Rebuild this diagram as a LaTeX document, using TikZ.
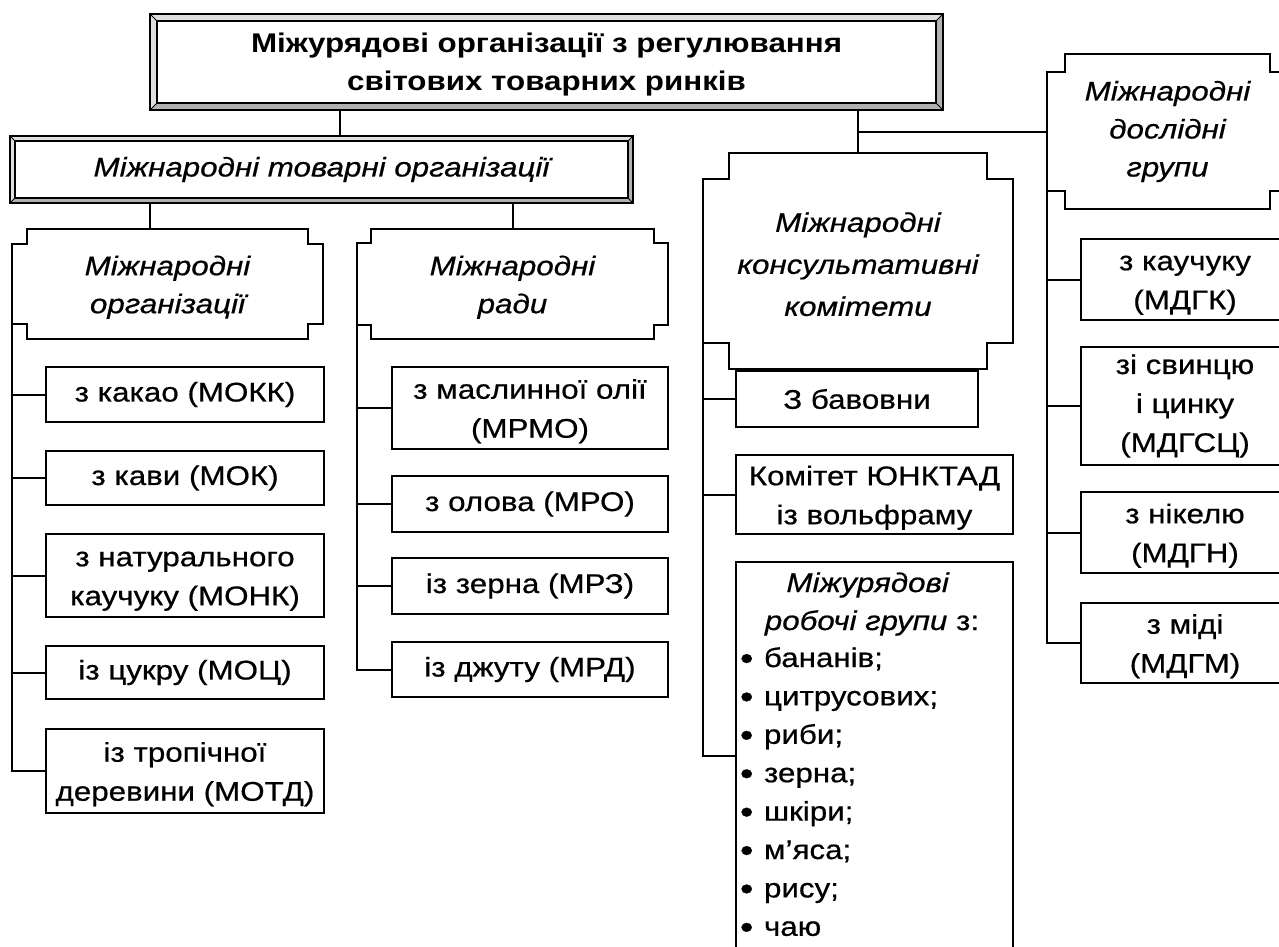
\documentclass[tikz,border=0pt]{standalone}
\usepackage{fontspec}
\setmainfont{Liberation Sans}[FakeStretch=1.16, UprightFeatures={FakeBold=0.6}, ItalicFeatures={FakeBold=0.6}]
\usetikzlibrary{calc}
\tikzset{
  boxln/.style={line width=2pt, line join=miter},
  conn/.style={line width=2pt},
  txt/.style={inner sep=0pt, outer sep=0pt, align=center, font=\fontsize{27}{39}\selectfont},
  bx/.style={txt, draw, boxln},
  pl/.style={txt, font=\fontsize{27}{38}\selectfont\itshape},
  frm/.style={txt},
  lst/.style={inner sep=0pt, outer sep=0pt, anchor=base west, font=\fontsize{27}{38}\selectfont},
}
\newcommand\up{\rule{0pt}{26pt}}
\newcommand\bul{\makebox[24pt][l]{\raisebox{-2.5pt}{\fontsize{33}{38}\selectfont\textbullet}}}
\newcommand\plaq[2]{%
  \draw[boxln] ([xshift=#2pt]#1.north west) -- ([xshift=-#2pt]#1.north east)
    -- ([xshift=-#2pt,yshift=-#2pt]#1.north east) -- ([yshift=-#2pt]#1.north east)
    -- ([yshift=#2pt]#1.south east) -- ([xshift=-#2pt,yshift=#2pt]#1.south east)
    -- ([xshift=-#2pt]#1.south east) -- ([xshift=#2pt]#1.south west)
    -- ([xshift=#2pt,yshift=#2pt]#1.south west) -- ([yshift=#2pt]#1.south west)
    -- ([yshift=-#2pt]#1.north west) -- ([xshift=#2pt,yshift=-#2pt]#1.north west) -- cycle;}
\newcommand\dfr[2]{%
  \coordinate (#1-a) at ([xshift=#2pt,yshift=-#2pt]#1.north west);
  \coordinate (#1-b) at ([xshift=-#2pt,yshift=-#2pt]#1.north east);
  \coordinate (#1-c) at ([xshift=-#2pt,yshift=#2pt]#1.south east);
  \coordinate (#1-d) at ([xshift=#2pt,yshift=#2pt]#1.south west);
  \fill[gray!25] (#1.north west) -- (#1.north east) -- (#1-b) -- (#1-a) -- (#1-d) -- (#1.south west) -- cycle;
  \fill[gray!60] (#1.north east) -- (#1.south east) -- (#1.south west) -- (#1-d) -- (#1-c) -- (#1-b) -- cycle;
  \draw[line width=1.8pt] (#1.north west) rectangle (#1.south east);
  \draw[line width=1.8pt] (#1-a) rectangle (#1-c);
  \draw[line width=1pt] (#1.north west) -- (#1-a) (#1.north east) -- (#1-b)
    (#1.south east) -- (#1-c) (#1.south west) -- (#1-d);}
\begin{document}
\begin{tikzpicture}[x=1pt,y=-1pt]
\useasboundingbox (0,0) rectangle (1279,946);
\fill[white] (0,0) rectangle (1279,946);
\clip (0,0) rectangle (1279,946);

% frames with double border
\node[frm, font=\fontsize{27}{38}\selectfont\bfseries, minimum width=793pt, minimum height=96pt] (T) at (546.5,62) {\rule{0pt}{24pt}Міжурядові організації з регулювання\\світових товарних ринків};
\node[frm, font=\fontsize{27}{38}\selectfont\itshape, minimum width=623pt, minimum height=67pt] (S) at (321.5,169.5) {Міжнародні товарні організації};
\dfr{T}{7}
\dfr{S}{5}

% plaques
\node[pl, minimum width=311pt, minimum height=110pt] (O) at (167.5,284) {\up Міжнародні\\організації};
\node[pl, minimum width=311pt, minimum height=110pt] (R) at (512.5,284) {\up Міжнародні\\ради};
\node[pl, font=\fontsize{27}{42}\selectfont\itshape, minimum width=310pt, minimum height=216pt] (K) at (858,261) {\up Міжнародні\\консультативні\\комітети};
\node[pl, minimum width=241pt, minimum height=155pt] (D) at (1167.5,131.5) {Міжнародні\\дослідні\\групи};
\plaq{O}{15}
\plaq{R}{14}
\plaq{K}{26}
\plaq{D}{18}

% left column
\node[bx, minimum width=278pt, minimum height=55pt] (o1) at (185,394.5) {з какао (МОКК)};
\node[bx, minimum width=278pt, minimum height=54pt] (o2) at (185,478) {з кави (МОК)};
\node[bx, minimum width=278pt, minimum height=83pt] (o3) at (185,575.5) {\up з натурального\\каучуку (МОНК)};
\node[bx, minimum width=278pt, minimum height=53pt] (o4) at (185,672.5) {із цукру (МОЦ)};
\node[bx, minimum width=278pt, minimum height=84pt] (o5) at (185,771) {\up із тропічної\\деревини (МОТД)};

% middle column
\node[bx, minimum width=276pt, minimum height=82pt] (r1) at (530,408) {\up з маслинної олії\\(МРМО)};
\node[bx, minimum width=276pt, minimum height=56pt] (r2) at (530,504) {з олова (МРО)};
\node[bx, minimum width=276pt, minimum height=56pt] (r3) at (530,586) {із зерна (МРЗ)};
\node[bx, minimum width=276pt, minimum height=55pt] (r4) at (530,669.5) {із джуту (МРД)};

% consultative column
\node[bx, minimum width=242pt, minimum height=56pt] (k1) at (857,399) {З бавовни};
\node[bx, minimum width=277pt, minimum height=79pt] (k2) at (874.5,494.5) {\up Комітет ЮНКТАД\\із вольфраму};
\node[bx, minimum width=277pt, minimum height=388pt] (k3) at (874.5,756) {};
\node[txt, anchor=base] (k3a) at (868,592) {\textit{Міжурядові}};
\node[txt, anchor=base] (k3b) at (872,630) {\textit{робочі групи} з:};
\foreach \t [count=\i from 0] in {бананів;, цитрусових;, риби;, зерна;, шкіри;, м’яса;, рису;, чаю}
  \node[lst] (k3l\i) at (740,667+38.4*\i) {\bul\t};

% research column
\node[bx, minimum width=208pt, minimum height=81pt] (d1) at (1185,279.5) {\up з каучуку\\(МДГК)};
\node[bx, minimum width=208pt, minimum height=118pt] (d2) at (1185,406) {зі свинцю\\і цинку\\(МДГСЦ)};
\node[bx, minimum width=208pt, minimum height=81pt] (d3) at (1185,532.5) {\up з нікелю\\(МДГН)};
\node[bx, minimum width=208pt, minimum height=80pt] (d4) at (1185,643) {\up з міді\\(МДГМ)};

% connectors
\coordinate (xa) at (340,0);
\coordinate (xb) at (150,0);
\draw[conn] (T.south -| xa) -- (S.north -| xa);
\draw[conn] (T.south -| K.north) -- (K.north);
\draw[conn] (K.north |- D.west) -- (D.west);
\draw[conn] (S.south -| xb) -- (O.north -| xb);
\draw[conn] (S.south -| R.north) -- (R.north);

\draw[conn] ([yshift=15pt]O.south west) |- (o5.west);
\foreach \n in {o1,o2,o3,o4} \draw[conn] (O.west |- \n.west) -- (\n.west);
\draw[conn] ([yshift=14pt]R.south west) |- (r4.west);
\foreach \n in {r1,r2,r3} \draw[conn] (R.west |- \n.west) -- (\n.west);
\draw[conn] ([yshift=26pt]K.south west) |- (k3.west);
\foreach \n in {k1,k2} \draw[conn] (K.west |- \n.west) -- (\n.west);
\draw[conn] ([yshift=18pt]D.south west) |- (d4.west);
\foreach \n in {d1,d2,d3} \draw[conn] (D.west |- \n.west) -- (\n.west);
\end{tikzpicture}
\end{document}
